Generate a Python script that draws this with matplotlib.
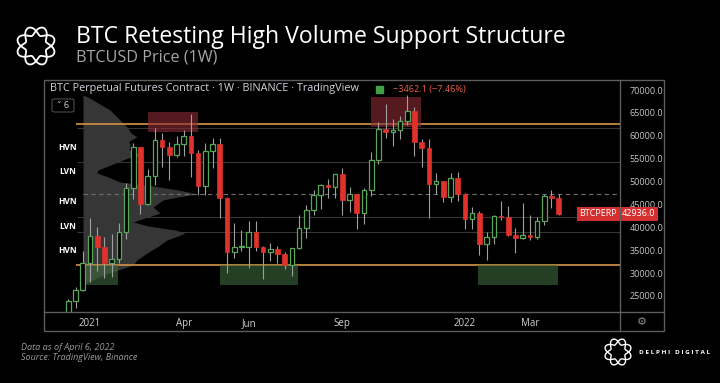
import numpy as np
import matplotlib.pyplot as plt
from matplotlib.patches import Rectangle, FancyBboxPatch
from matplotlib.lines import Line2D
import matplotlib.transforms as mtransforms

plt.rcParams['font.family'] = ['Open Sans', 'DejaVu Sans']

# weekly BTCPERP candles, first one = week of 14 Dec 2020
opens = [19270, 23800, 26250, 32200, 38200, 35800, 32300, 33100, 38900, 48600,
         57450, 45200, 51200, 59000, 57500, 55800, 58200, 60000, 56200, 49000,
         56600, 58300, 46400, 34700, 35650, 35800, 39050, 35600, 34700, 35300,
         34250, 31800, 35400, 39850, 43800, 47050, 49300, 48850, 51750, 46000,
         47250, 43150, 48200, 54650, 61500, 60850, 61300, 63300, 65500, 58650,
         57300, 49400, 50100, 46700, 50800, 47300, 41850, 43100, 36250, 37900,
         42400, 42200, 38400, 37700, 38400, 37800, 41300, 46850, 46398.1]
highs = [24300, 26900, 34800, 41950, 40100, 37900, 38550, 40950, 49700, 58350,
         57500, 52650, 61800, 60650, 58600, 60000, 61200, 64850, 57000, 58450,
         59500, 59600, 46650, 40850, 39500, 41300, 41350, 36000, 36600, 35950,
         34600, 35500, 42600, 44800, 48150, 49400, 50500, 51050, 52950, 48850,
         47300, 48500, 56550, 62950, 67000, 63700, 64250, 69000, 66350, 59300,
         59200, 51950, 50200, 51900, 52100, 47550, 44450, 43500, 38950, 42650,
         45850, 44750, 39850, 45400, 42600, 42350, 47200, 48200, 47200]
lows = [19000, 22350, 26000, 28100, 30400, 28850, 29250, 32300, 37400, 46200,
        43000, 44950, 49300, 53250, 50400, 55450, 55500, 51000, 47000, 47050,
        53000, 42000, 30000, 33400, 34800, 31100, 34800, 28800, 32700, 32100,
        31000, 29300, 35200, 37650, 42800, 43950, 46400, 46500, 42800, 43400,
        39600, 40750, 46900, 53900, 59500, 57800, 59400, 62300, 55600, 53250,
        42000, 47300, 45550, 45550, 45700, 39650, 39600, 34000, 32900, 36250,
        41700, 38000, 34300, 37450, 37150, 37550, 40450, 44200, 42750]
closes = [23800, 26250, 32200, 38200, 35800, 32300, 33100, 38900, 48600, 57450,
          45200, 51200, 59000, 57500, 55800, 58200, 60000, 56200, 49000, 56600,
          58300, 46400, 34700, 35650, 35800, 39050, 35600, 34700, 35300, 34250,
          31800, 35400, 39850, 43800, 47050, 49300, 48850, 51750, 46000, 47250,
          43150, 48200, 54650, 61500, 60850, 61300, 63300, 65500, 58650, 57300,
          49400, 50100, 46700, 50800, 47300, 41850, 43100, 36250, 37900, 42400,
          42200, 38400, 37700, 38400, 37800, 41300, 46850, 46398.1, 42936]

week_ticks = [3, 16, 25, 38, 55, 64]
week_labels = ['2021', 'Apr', 'Jun', 'Sep', '2022', 'Mar']
price_ticks = [25000, 30000, 35000, 40000, 45000, 50000, 55000, 60000, 65000, 70000]

# fixed range volume profile (price level, relative volume)
profile_price = [68900, 68470, 67160, 65630, 63450, 61920, 60600, 59730, 58860, 57990,
                 56890, 55800, 55150, 54270, 53400, 52520, 51870, 51000, 49900, 49030,
                 48160, 47280, 46630, 45970, 44440, 43130, 42040, 41170, 40300, 39420,
                 38760, 38110, 37230, 35700, 34390, 32860, 31770, 30680, 29370, 27840]
profile_vol = [0, 5, 15, 27, 37, 44, 48, 54, 46, 47,
               46, 60, 45, 35, 25, 15, 14, 25, 37, 70,
               95, 115, 95, 80, 70, 77, 62, 50, 65, 92,
               102, 95, 84, 74, 64, 54, 50, 35, 18, 3]

node_labels = ['HVN', 'LVN', 'HVN', 'LVN', 'HVN']
node_prices = [57330, 52300, 45750, 40070, 34830]

key_levels = [62600, 31800]
poc_level = 47300
minor_levels = [61700, 54270, 42260, 38980]

supply_zones = [(11.0, 18.0, 60800, 65200), (42.0, 48.9, 61900, 68500)]
demand_zones = [(2.3, 6.9, 27400, 31770), (21.0, 31.9, 27400, 31770), (56.8, 67.9, 27400, 31770)]

last_price = closes[-1]
change = closes[-1] - opens[-1]
change_pct = change / opens[-1] * 100

W, H = 720, 383
fig = plt.figure(figsize=(W / 100, H / 100), dpi=100, facecolor='black')


def fx(px):
    return px / W


def fy(py):
    return 1 - py / H


ax = fig.add_axes([fx(45), fy(312), fx(620) - fx(45), fy(80) - fy(312)], facecolor='black')
xmin, xmax = -3.24, 76.5
ax.set_xlim(xmin, xmax)
ax.set_ylim(21500, 72185)
px_per_week = 575 / (xmax - xmin)

# volume profile
x0 = 2.03
ax.fill_betweenx(profile_price, x0, x0 + np.array(profile_vol) / px_per_week,
                 color='#6c6c6c', alpha=0.5, lw=0, zorder=1)

# levels
ax.hlines(minor_levels, 1.2, xmax, color='#363636', lw=0.8, zorder=1.5)
ax.hlines(poc_level, x0, xmax, color='#6e6e6e', lw=0.8, linestyles=(0, (4, 3)), zorder=1.5)
ax.hlines(key_levels, 1.1, xmax, color='#c68a40', lw=1.3, zorder=2)

for a, b, lo, hi in supply_zones:
    ax.add_patch(Rectangle((a, lo), b - a, hi - lo, facecolor='#8e2a37', alpha=0.6, lw=0, zorder=2.5))
for a, b, lo, hi in demand_zones:
    ax.add_patch(Rectangle((a, lo), b - a, hi - lo, facecolor='#3d6a3d', alpha=0.6, lw=0, zorder=2.5))

# candles
o, h, l, c = (np.array(v, dtype=float) for v in (opens, highs, lows, closes))
x = np.arange(len(o))
up = c >= o
body_lo = np.minimum(o, c)
body_h = np.maximum(np.abs(c - o), 180)
ax.vlines(x, l, h, color='#a0a0a0', lw=0.8, zorder=3)
ax.bar(x[up], body_h[up], bottom=body_lo[up], width=0.64, facecolor='black',
       edgecolor='#58a65a', lw=0.9, zorder=4)
ax.bar(x[~up], body_h[~up], bottom=body_lo[~up], width=0.64, color='#e0312b',
       edgecolor='#e0312b', lw=0.5, zorder=4)

# HVN / LVN labels
tr = mtransforms.blended_transform_factory(ax.transAxes, ax.transData)
for lab, p in zip(node_labels, node_prices):
    ax.text(0.04, p, lab, transform=tr, ha='center', va='center', color='white',
            fontsize=6, fontweight='bold', zorder=6)

# axes ticks
for s in ax.spines.values():
    s.set_visible(False)
ax.yaxis.tick_right()
ax.set_yticks(price_ticks)
ax.set_yticklabels([f'{p:.1f}' for p in price_ticks])
ax.set_xticks(week_ticks)
ax.set_xticklabels(week_labels)
ax.tick_params(axis='y', length=0, pad=7, labelsize=6.5, labelcolor='#c8c8c8')
ax.tick_params(axis='x', length=0, pad=4.5, labelsize=7, labelcolor='#d0d0d0')

# header inside the chart
ax.text(0.009, 0.962, 'BTC Perpetual Futures Contract · 1W · BINANCE · TradingView',
        transform=ax.transAxes, color='#d1d4dc', fontsize=7.8, va='center', ha='left', zorder=7)
fig.patches.append(Rectangle((fx(376), fy(93)), fx(7), fy(86) - fy(93), color='#43a047',
                             transform=fig.transFigure))
fig.text(fx(393), fy(89.5), f'−{abs(change):.1f} (−{abs(change_pct):.2f}%)', color='#ef5f4c',
         fontsize=6.6, va='center', ha='left')
fig.patches.append(FancyBboxPatch((fx(52), fy(112)), fx(22), fy(99) - fy(112),
                                  boxstyle='round,pad=0,rounding_size=0.004', fc='black',
                                  ec='#4a4a4a', lw=0.8, transform=fig.transFigure))
fig.text(fx(63), fy(105.5), '˅ 6', color='#d0d0d0', fontsize=6.5, ha='center', va='center')

# last price tag
ax.text(0.995, last_price, 'BTCPERP', transform=tr, ha='right', va='center', color='white',
        fontsize=6.5, zorder=8, bbox=dict(boxstyle='square,pad=0.3', fc='#d32f2f', ec='none'))
ax.text(1.003, last_price, f'{last_price:.1f}', transform=tr, ha='left', va='center',
        color='white', fontsize=6.5, zorder=8, clip_on=False,
        bbox=dict(boxstyle='square,pad=0.3', fc='#d32f2f', ec='none'))

# chart frame
frame_col = '#5c5c5c'
fig.patches.append(Rectangle((fx(44), fy(331)), fx(664) - fx(44), fy(80) - fy(331), fill=False,
                             ec=frame_col, lw=1, transform=fig.transFigure))
fig.lines.append(Line2D([fx(620), fx(620)], [fy(80), fy(331)], color=frame_col, lw=1,
                        transform=fig.transFigure))
fig.lines.append(Line2D([fx(44), fx(664)], [fy(312), fy(312)], color=frame_col, lw=1,
                        transform=fig.transFigure))
fig.text(fx(642), fy(322), '⚙', color='#8a8a8a', fontsize=8, ha='center', va='center',
         family='DejaVu Sans')


def logo(cx, cy, r, lw):
    # braided ring: two waves wound around a circle
    lax = fig.add_axes([fx(cx - r - 2), fy(cy + r + 2), fx(2 * r + 4), fy(0) - fy(2 * r + 4)])
    lax.set_xlim(-r - 2, r + 2)
    lax.set_ylim(-r - 2, r + 2)
    lax.axis('off')
    t = np.linspace(0, 2 * np.pi, 400)
    base, amp = 0.76 * r, 0.22 * r
    for sgn in (1, -1):
        rr = base + sgn * amp * np.sin(4 * t)
        lax.plot(rr * np.cos(t), rr * np.sin(t), color='white', lw=lw)


logo(36, 46, 20, 1.3)
logo(618, 352, 14, 1.0)

# titles and footer
fig.text(fx(76), fy(37), 'BTC Retesting High Volume Support Structure', color='white',
         fontsize=16.6, va='center', ha='left')
fig.text(fx(76), fy(58), 'BTCUSD Price (1W)', color='#a6a6a6', fontsize=11.6, va='center', ha='left')
fig.text(fx(21), fy(347), 'Data as of April 6, 2022', color='#9b9b9b', fontsize=6.5,
         style='italic', va='center', ha='left')
fig.text(fx(21), fy(358), 'Source: TradingView, Binance', color='#9b9b9b', fontsize=6.5,
         style='italic', va='center', ha='left')
fig.text(fx(639), fy(353), 'D E L P H I   D I G I T A L', color='white', fontsize=4.6,
         va='center', ha='left', fontweight='bold')

fig.savefig('out.png', dpi=100, facecolor='black')
